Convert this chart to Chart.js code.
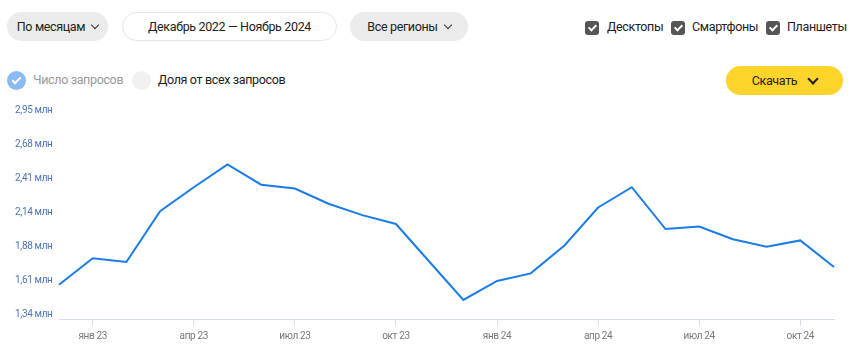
<!DOCTYPE html>
<html lang="ru">
<head>
<meta charset="utf-8">
<script src="https://cdn.jsdelivr.net/npm/chart.js@4.4.1/dist/chart.umd.min.js"></script>
<style>
  html, body { margin: 0; padding: 0; background: #fff; }
  body { width: 864px; height: 352px; position: relative; overflow: hidden;
    font-family: Roboto, "Noto Sans", sans-serif; font-size: 12.5px; letter-spacing: -0.35px; color: #222; }
  .pill { position: absolute; top: 12px; height: 29px; border-radius: 15px; box-sizing: border-box;
    display: flex; align-items: center; justify-content: center; white-space: nowrap; }
  .gray { background: #ebebeb; }
  .white { background: #fff; border: 1px solid #e6e6e6; }
  .chev { display: inline-block; width: 5px; height: 5px; border-right: 1.2px solid #333; border-bottom: 1.2px solid #333;
    transform: rotate(45deg); margin: -4px 0 0 7px; }
  .cb { position: absolute; top: 21px; width: 14px; height: 14px; border-radius: 3px; background: #555; }
  .cb::after, .rd.on::after { content: ""; position: absolute; left: 4.5px; top: 2px; width: 3px; height: 6px;
    border-right: 2px solid #fff; border-bottom: 2px solid #fff; transform: rotate(45deg); }
  .lbl { position: absolute; white-space: nowrap; }
  .rd { position: absolute; top: 71px; width: 19px; height: 19px; border-radius: 50%; background: #f0f0f0; }
  .rd.on { background: #8bb9f2; }
  .rd.on::after { left: 7px; top: 4px; width: 3px; height: 7px; }
  .btn { position: absolute; left: 726px; top: 66px; width: 117px; height: 29px; border-radius: 15px; background: #fed42b;
    display: flex; align-items: center; justify-content: center; }
  .btn .chev { border-color: #222; border-width: 2px; width: 6px; height: 6px; margin-left: 12px; }
  #chart { position: absolute; left: 0; top: 95px; }
</style>
</head>
<body>
<div class="pill gray" style="left:7px;width:101px">По месяцам<span class="chev"></span></div>
<div class="pill white" style="left:122px;width:215px">Декабрь 2022 — Ноябрь 2024</div>
<div class="pill gray" style="left:350px;width:118px">Все регионы<span class="chev"></span></div>

<div class="cb" style="left:585px"></div><div class="lbl" style="left:607px;top:19px">Десктопы</div>
<div class="cb" style="left:671px"></div><div class="lbl" style="left:692px;top:19px">Смартфоны</div>
<div class="cb" style="left:766px"></div><div class="lbl" style="left:787px;top:19px">Планшеты</div>

<div class="rd on" style="left:7px"></div><div class="lbl" style="left:33px;top:72px;color:#999">Число запросов</div>
<div class="rd" style="left:132px"></div><div class="lbl" style="left:158px;top:72px">Доля от всех запросов</div>
<div class="btn">Скачать<span class="chev"></span></div>

<canvas id="chart" width="864" height="254"></canvas>
<script>
const months = [
  "дек 22", "янв 23", "фев 23", "мар 23", "апр 23", "май 23", "июн 23", "июл 23", "авг 23", "сен 23", "окт 23", "ноя 23",
  "дек 23", "янв 24", "фев 24", "мар 24", "апр 24", "май 24", "июн 24", "июл 24", "авг 24", "сен 24", "окт 24", "ноя 24"
]
// число запросов, млн
const queries = [
  1.61, 1.82, 1.79, 2.19, 2.38, 2.56, 2.40, 2.37, 2.25, 2.16, 2.09, 1.79,
  1.49, 1.64, 1.70, 1.92, 2.22, 2.38, 2.05, 2.07, 1.97, 1.91, 1.96, 1.75
]
const shownMonths = ["янв", "апр", "июл", "окт"]
const yMin = 1.34
const yMax = 2.95
const yTickLabels = ["1,34 млн", "1,61 млн", "1,88 млн", "2,14 млн", "2,41 млн", "2,68 млн", "2,95 млн"]

const isShown = i => shownMonths.includes(months[i].split(" ")[0])
const axisColor = "#d5ddee"

new Chart(document.getElementById("chart"), {
  type: "line",
  data: {
    labels: months,
    datasets: [{ data: queries, borderColor: "#1a7ce8", borderWidth: 2, pointRadius: 0, tension: 0, fill: false }]
  },
  options: {
    responsive: false, animation: false, devicePixelRatio: 1,
    layout: { padding: { left: 15, right: 30, top: 20, bottom: 0 } },
    plugins: { legend: { display: false }, tooltip: { enabled: false } },
    scales: {
      x: {
        offset: false,
        grid: { drawOnChartArea: false, tickLength: 7, color: ctx => isShown(ctx.index) ? axisColor : "transparent" },
        border: { color: axisColor },
        ticks: { autoSkip: false, maxRotation: 0, padding: 4, color: "#777", font: { family: "Roboto", size: 10 },
          callback: (v, i) => isShown(i) ? months[i] : "" },
        afterFit: s => { s.height = 30 }
      },
      y: {
        min: yMin, max: yMax,
        grid: { display: false }, border: { display: false },
        afterBuildTicks: s => { s.ticks = yTickLabels.map((_, i) => ({ value: yMin + i * (yMax - yMin) / 6 })) },
        ticks: { crossAlign: "far", labelOffset: -5, color: "#4f74b8", font: { family: "Roboto", size: 10 },
          callback: (v, i) => yTickLabels[i] },
        afterFit: s => { s.width = 44 }
      }
    }
  }
})
</script>
</body>
</html>
